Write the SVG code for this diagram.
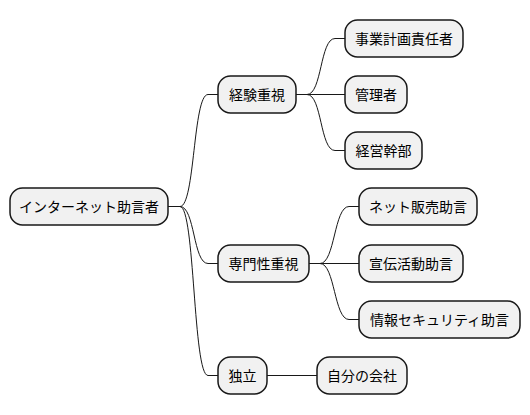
<svg xmlns="http://www.w3.org/2000/svg" width="530" height="415" viewBox="0 0 530 415">
<style>
.n rect{fill:#F1F1F1;stroke:#181818;stroke-width:1.5}
.n text{font-family:"Noto Sans CJK JP","Noto Sans",sans-serif;font-size:14px;fill:#000;text-anchor:middle}
.c path{fill:none;stroke:#181818;stroke-width:1}
</style>
<rect width="530" height="415" fill="#FFFFFF"/>
<g class="c">
<path d="M168,206.5 L180,206.5 C195,206.5 193,94.5 208,94.5 L218,94.5"/>
<path d="M168,206.5 L180,206.5 C195,206.5 193,263.5 208,263.5 L218,263.5"/>
<path d="M168,206.5 L180,206.5 C195,206.5 193,375.5 208,375.5 L218,375.5"/>
<path d="M296,94.5 L307,94.5 C322,94.5 320,38.5 335,38.5 L345,38.5"/>
<path d="M296,94.5 L345,94.5"/>
<path d="M296,94.5 L307,94.5 C322,94.5 320,150.5 335,150.5 L345,150.5"/>
<path d="M309,263.5 L320,263.5 C335,263.5 334,206.5 349,206.5 L359,206.5"/>
<path d="M309,263.5 L359,263.5"/>
<path d="M309,263.5 L320,263.5 C335,263.5 334,319.5 349,319.5 L359,319.5"/>
<path d="M267,375.5 L317,375.5"/>
</g>
<g class="n" id="root"><rect x="10" y="188" width="158" height="37" rx="12.5"/><text x="89" y="211.5">インターネット助言者</text></g>
<g class="n" id="keiken"><rect x="218" y="76" width="78" height="37" rx="12.5"/><text x="257" y="99.5">経験重視</text></g>
<g class="n" id="jigyou"><rect x="345" y="20" width="118" height="37" rx="12.5"/><text x="404" y="43.5">事業計画責任者</text></g>
<g class="n" id="kanri"><rect x="345" y="76" width="62" height="37" rx="12.5"/><text x="376" y="99.5">管理者</text></g>
<g class="n" id="keiei"><rect x="345" y="132" width="77" height="37" rx="12.5"/><text x="383.5" y="155.5">経営幹部</text></g>
<g class="n" id="senmon"><rect x="218" y="245" width="91" height="37" rx="12.5"/><text x="263.5" y="268.5">専門性重視</text></g>
<g class="n" id="net"><rect x="359" y="188" width="118" height="37" rx="12.5"/><text x="418" y="211.5">ネット販売助言</text></g>
<g class="n" id="senden"><rect x="359" y="245" width="104" height="37" rx="12.5"/><text x="411" y="268.5">宣伝活動助言</text></g>
<g class="n" id="jouhou"><rect x="359" y="301" width="161" height="37" rx="12.5"/><text x="439.5" y="324.5">情報セキュリティ助言</text></g>
<g class="n" id="dokuritsu"><rect x="218" y="357" width="49" height="37" rx="12.5"/><text x="242.5" y="380.5">独立</text></g>
<g class="n" id="jibun"><rect x="317" y="357" width="90" height="37" rx="12.5"/><text x="362" y="380.5">自分の会社</text></g>
</svg>
